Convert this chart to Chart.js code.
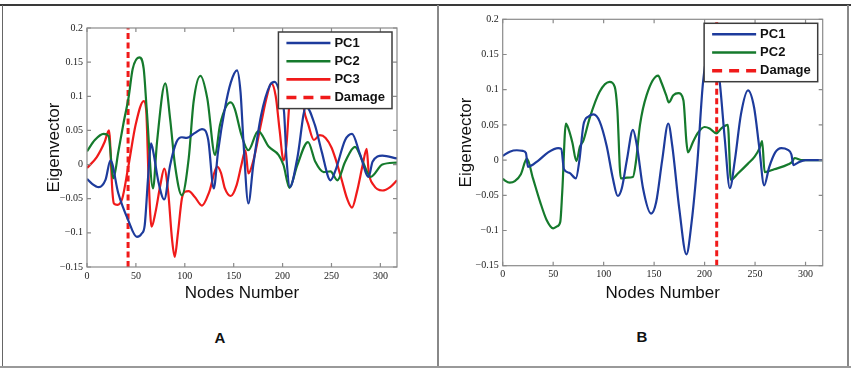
<!DOCTYPE html>
<html><head><meta charset="utf-8">
<script src="https://cdn.jsdelivr.net/npm/chart.js@4.4.0/dist/chart.umd.min.js"></script>
<style>
html,body{margin:0;padding:0;background:#fff;}
#wrap{position:relative;width:851px;height:372px;overflow:hidden;background:#fff;}
canvas{position:absolute;}
.ln{position:absolute;}
.lab{position:absolute;font:bold 15px 'Liberation Sans',Arial,sans-serif;color:#111;transform:translate(-50%,-50%);line-height:1;}
</style></head><body>
<div id="wrap">
<canvas id="cA" width="437" height="320" style="left:0px;top:0px"></canvas>
<canvas id="cB" width="410" height="320" style="left:438px;top:0px"></canvas>
<div class="ln" style="left:0px;top:4px;width:851px;height:2px;background:#3a3a3a"></div>
<div class="ln" style="left:2px;top:5px;width:1px;height:362px;background:#666"></div>
<div class="ln" style="left:847px;top:5px;width:1.5px;height:362px;background:#888"></div>
<div class="ln" style="left:437px;top:5px;width:1.5px;height:362px;background:#888"></div>
<div class="ln" style="left:0px;top:366px;width:851px;height:1.5px;background:#999"></div>
<div class="lab" style="left:220px;top:337px">A</div>
<div class="lab" style="left:642px;top:336px">B</div>
</div>
<script>
// ---------- data ----------
const xTicks = [0, 50, 100, 150, 200, 250, 300];
const yTicks = [-0.15, -0.1, -0.05, 0, 0.05, 0.1, 0.15, 0.2];
const xMax = 317;

// Panel A
const A_PC1_x = [0,5,12,19,24,32,42,51,56,59,62.6,65.5,68,73,79,85,91.5,97,102,110,117.6,124,129.6,134,141,147,153.4,157,160,165,170,178,187,192,197,201.5,204,207.5,215,224,233,240,249,254,264,271,279,288,292,302,317];
const A_PC1_y = [-0.021,-0.028,-0.033,-0.022,0.006,-0.042,-0.081,-0.106,-0.101,-0.089,-0.016,0.031,0.017,-0.025,-0.051,-0.001,0.033,0.040,0.039,0.046,0.052,0.036,-0.035,0.019,0.082,0.120,0.138,0.106,0.033,-0.057,-0.001,0.072,0.116,0.121,0.106,0.077,0.009,-0.033,0.009,0.085,0.058,0.019,-0.023,-0.009,0.036,0.045,0.016,-0.018,0.004,0.013,0.009];
const A_PC2_x = [0,8,17,22,27,32,37.5,42.6,46.7,53.5,58,61,67.5,71.6,80,85,90,97,104,109,116,123,131,136,147,151,158,165,175,186,196,201,207,215,226,233.5,242,249,256,264,274,282,290,302,317];
const A_PC2_y = [0.0195,0.036,0.045,0.042,-0.020,0.0185,0.062,0.099,0.140,0.157,0.140,0.082,-0.035,0.033,0.119,0.067,-0.001,-0.045,0.009,0.092,0.130,0.097,0.014,0.058,0.091,0.082,0.043,0.021,0.049,0.026,0.014,-0.001,-0.034,-0.001,0.033,0.004,-0.011,-0.010,-0.023,0.004,0.026,0.004,-0.018,0.0,0.003];
const A_PC3_x = [0,10,18,22.5,26,27.5,31,36,42,50,58,60.5,63,66,70,75,79,83,87,89.7,93,97,100,104,110,117.6,125,133,137,141,147,153,158,162,165,170,178,184,188.5,193,197,201,204,207,213,219,222,226,232,238,244,250,254,260,266,271,276,282,286,288,293,302,310,317];
const A_PC3_y = [-0.005,0.011,0.033,0.050,-0.040,-0.057,-0.059,-0.050,-0.005,0.060,0.093,0.080,-0.020,-0.091,-0.070,-0.030,-0.006,-0.040,-0.110,-0.135,-0.100,-0.050,-0.040,-0.039,-0.047,-0.060,-0.040,-0.003,-0.012,-0.035,-0.046,-0.030,0.000,0.021,-0.013,0.005,0.060,0.100,0.119,0.100,0.050,0.006,0.030,0.090,0.140,0.120,0.080,0.060,0.036,0.043,0.039,0.025,0.009,-0.020,-0.050,-0.063,-0.040,0.000,0.023,-0.010,-0.030,-0.038,-0.033,-0.023];
const A_damageNode = 42;

// Panel B
const B_PC1_x = [0,7,14,20,23,25,35,45,55,58,60.7,66,72.5,76,80,85,90,96,103,109,114,118,123,129,133,139,147,152,158,164,168,175,182,187,193,198.5,206,212,215,220,225,230,236,243,249,254,259,264,270,276,282,286,288,292,300,317];
const B_PC1_y = [0.006,0.012,0.014,0.013,0.010,-0.0095,-0.001,0.011,0.017,0.016,-0.013,-0.018,-0.026,0.000,0.050,0.062,0.065,0.055,0.020,-0.025,-0.051,-0.040,0.000,0.043,0.020,-0.040,-0.076,-0.060,0.000,0.052,0.020,-0.070,-0.134,-0.090,0.000,0.111,0.165,0.140,0.111,0.030,-0.040,0.000,0.065,0.099,0.075,0.020,-0.036,-0.010,0.011,0.017,0.015,0.008,-0.007,-0.004,0.000,0.000];
const B_PC2_x = [0,7,12,18,24,30,37,43.5,50,54,57,59,62.6,65,69,73,76.5,80,86,96,106,111,113.5,117,123,129,132,136,142.5,154,157,162,164.5,169,174,179,182,183.5,188.6,193.5,200,205,211.7,216.6,223,226,233,243,249.6,254.5,257,259.5,269,283,287,289,296,317];
const B_PC2_y = [-0.027,-0.032,-0.030,-0.020,0.002,-0.026,-0.059,-0.085,-0.097,-0.094,-0.088,-0.045,0.052,0.045,0.025,-0.0015,0.019,0.028,0.059,0.097,0.111,0.104,0.073,-0.026,-0.025,-0.024,-0.002,0.050,0.092,0.120,0.111,0.092,0.082,0.092,0.095,0.085,0.026,0.011,0.026,0.039,0.047,0.045,0.038,0.045,0.050,-0.028,-0.019,-0.005,0.005,0.017,0.027,-0.017,-0.013,-0.006,-0.002,0.003,0.000,0.000];
const B_damageNode = 212;

// ---------- styling ----------
const COL_BLUE = '#1d3b9c', COL_GREEN = '#157a2c', COL_RED = '#f01a1a';
const tickFont = {family: "'Liberation Serif','Times New Roman',serif", size: 10};
const titleFont = {family: "'Liberation Sans',Arial,sans-serif", size: 17};

const pts = (xs, ys) => xs.map((x, i) => ({x, y: ys[i]}));
const yMin = yTicks[0], yMax = yTicks[yTicks.length - 1];
const line = (label, xs, ys, color) => ({
  label, data: pts(xs, ys), borderColor: color, borderWidth: 2.2,
  pointRadius: 0, fill: false, cubicInterpolationMode: 'monotone'
});
const damage = node => ({
  label: 'Damage', data: [{x: node, y: yMin}, {x: node, y: yMax}],
  borderColor: COL_RED, borderWidth: 3, borderDash: [6, 3.5], pointRadius: 0,
  fill: false, legendDash: [10, 7], legendWidth: 3.5
});

const fmt = v => { const a = +Math.abs(v).toFixed(2); return v === 0 ? '0' : (v < 0 ? '\u2212' : '') + String(a); };

const boxLegend = {
  id: 'boxLegend',
  afterDatasetsDraw(chart) {
    const {ctx, chartArea: a, scales: {x, y}} = chart;
    ctx.save();
    ctx.strokeStyle = '#8a8a8a'; ctx.lineWidth = 1.2;
    ctx.strokeRect(a.left, a.top, a.right - a.left, a.bottom - a.top);
    ctx.beginPath();
    x.ticks.forEach(t => { const p = x.getPixelForValue(t.value);
      ctx.moveTo(p, a.bottom); ctx.lineTo(p, a.bottom - 4); ctx.moveTo(p, a.top); ctx.lineTo(p, a.top + 4); });
    y.ticks.forEach(t => { const p = y.getPixelForValue(t.value);
      ctx.moveTo(a.left, p); ctx.lineTo(a.left + 4, p); ctx.moveTo(a.right, p); ctx.lineTo(a.right - 4, p); });
    ctx.stroke();
    ctx.font = "bold 13px 'Liberation Sans', Arial, sans-serif";
    const items = chart.data.datasets;
    const tw = Math.max(...items.map(d => ctx.measureText(d.label).width));
    const w = 56 + tw + 7, rowH = 18.2, h = 22 + (items.length - 1) * rowH;
    const left = a.right - 5 - w, top = a.top + 4;
    ctx.fillStyle = '#fff'; ctx.fillRect(left, top, w, h);
    ctx.strokeStyle = '#3c3c3c'; ctx.lineWidth = 1.5; ctx.strokeRect(left, top, w, h);
    items.forEach((d, i) => {
      const cy = top + 11 + i * rowH;
      ctx.beginPath(); ctx.setLineDash(d.legendDash || []);
      ctx.strokeStyle = d.borderColor; ctx.lineWidth = d.legendWidth || 2.6;
      ctx.moveTo(left + 8, cy); ctx.lineTo(left + 52, cy); ctx.stroke();
      ctx.setLineDash([]);
      ctx.fillStyle = '#111'; ctx.textBaseline = 'middle'; ctx.textAlign = 'left';
      ctx.fillText(d.label, left + 56, cy);
    });
    ctx.restore();
  }
};

function makeChart(id, datasets, geo) {
  return new Chart(document.getElementById(id), {
    type: 'line',
    data: {datasets},
    options: {
      responsive: false, animation: false, devicePixelRatio: 1,
      layout: {padding: {left: geo.padL, top: geo.padT, right: geo.padR, bottom: 0}},
      plugins: {legend: {display: false}, tooltip: {enabled: false}},
      scales: {
        x: {
          type: 'linear', min: 0, max: xMax,
          afterBuildTicks: s => { s.ticks = xTicks.map(v => ({value: v})); },
          afterFit: s => { s.height = geo.xH; },
          grid: {display: false, drawTicks: false}, border: {display: false},
          ticks: {padding: 3, font: tickFont, color: '#222', maxRotation: 0, autoSkip: false},
          title: {display: true, text: 'Nodes Number', font: titleFont, color: '#111', padding: {top: 0, bottom: geo.xTitlePad}}
        },
        y: {
          type: 'linear', min: yMin, max: yMax,
          afterBuildTicks: s => { s.ticks = yTicks.map(v => ({value: v})); },
          afterFit: s => { s.width = geo.yW; },
          grid: {display: false, drawTicks: false}, border: {display: false},
          ticks: {padding: 4, font: tickFont, color: '#222', callback: fmt},
          title: {display: true, text: 'Eigenvector', font: titleFont, color: '#111', padding: {top: 0, bottom: 0}}
        }
      }
    },
    plugins: [boxLegend]
  });
}

makeChart('cA', [
  line('PC1', A_PC1_x, A_PC1_y, COL_BLUE),
  line('PC2', A_PC2_x, A_PC2_y, COL_GREEN),
  line('PC3', A_PC3_x, A_PC3_y, COL_RED),
  damage(A_damageNode)
], {padL: 43.8, padT: 28, padR: 40, yW: 43.2, xH: 53, xTitlePad: 16.8});

makeChart('cB', [
  line('PC1', B_PC1_x, B_PC1_y, COL_BLUE),
  line('PC2', B_PC2_x, B_PC2_y, COL_GREEN),
  damage(B_damageNode)
], {padL: 18.5, padT: 19.3, padR: 25.3, yW: 46.2, xH: 54.3, xTitlePad: 16.5});
</script>
</body></html>
